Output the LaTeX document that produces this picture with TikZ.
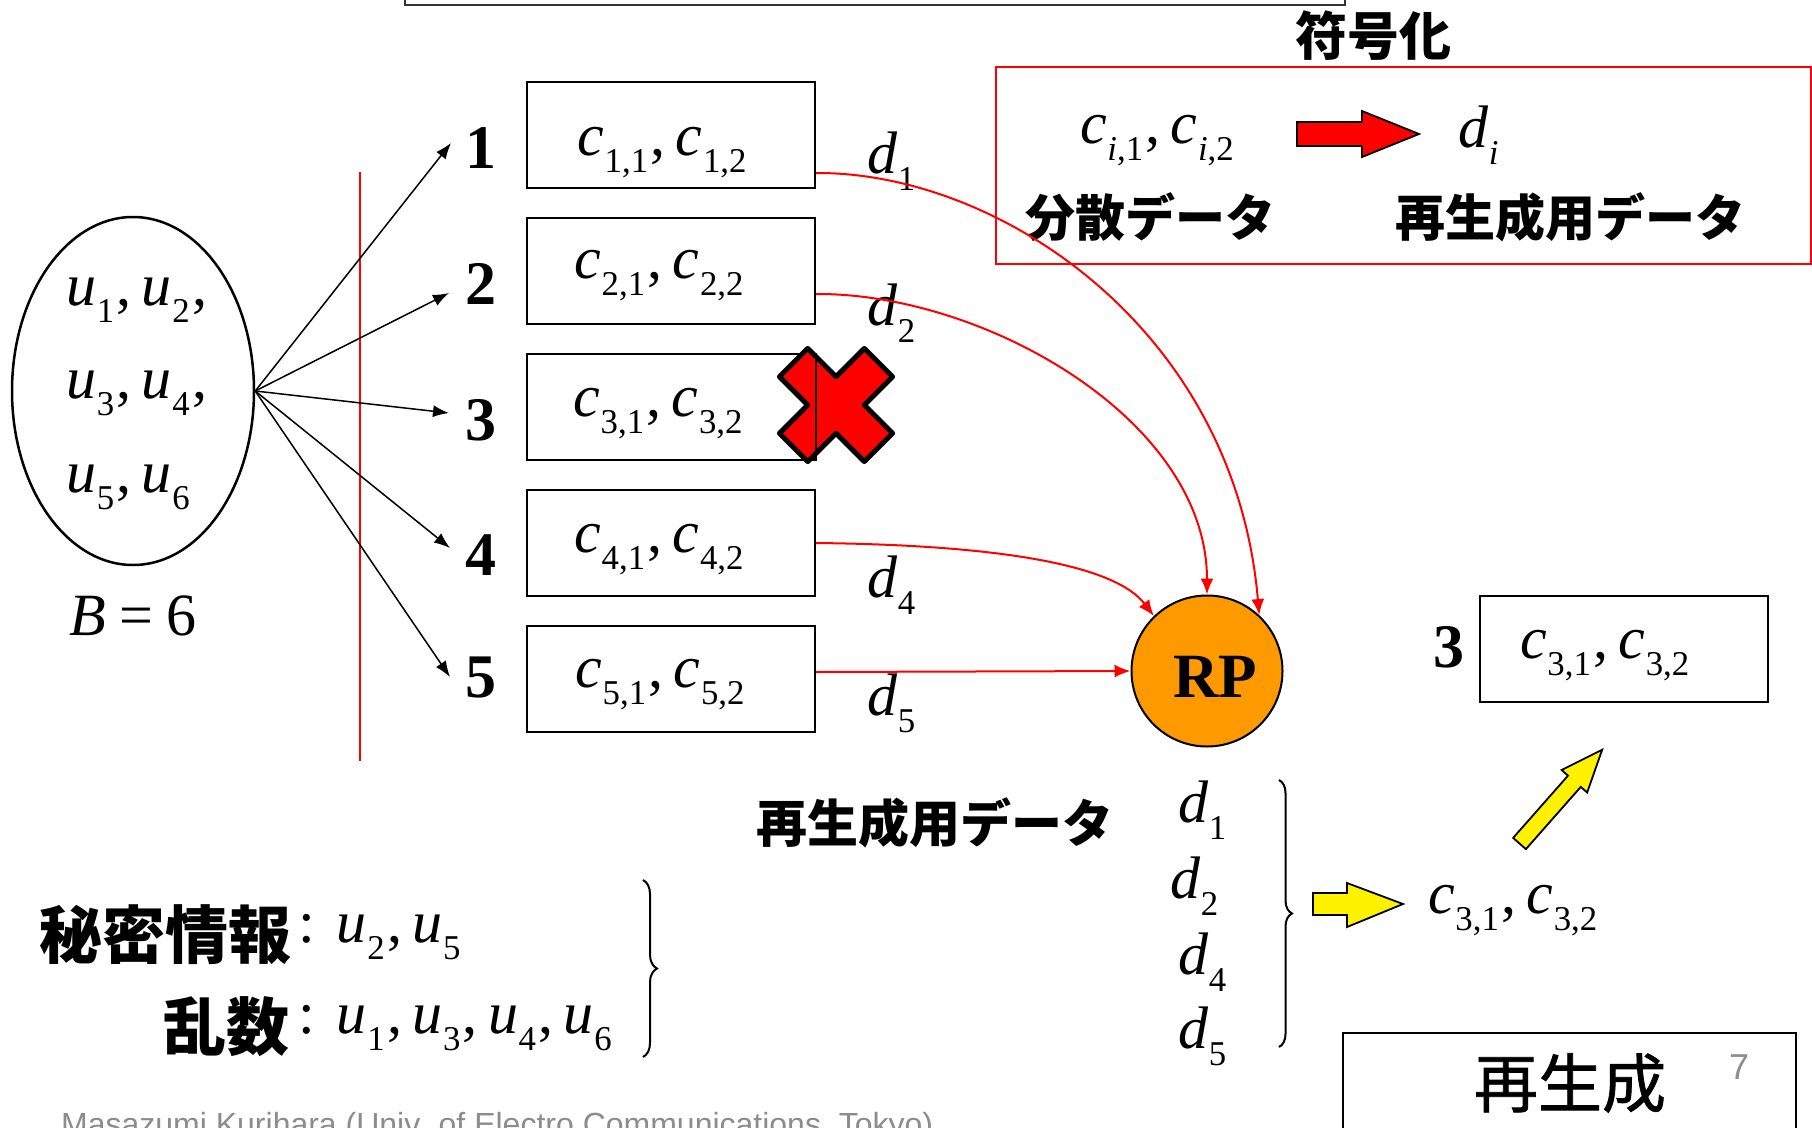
\documentclass[tikz,border=0pt]{standalone}
\usepackage{fontspec}
\usepackage{graphicx}
\setmainfont{Liberation Serif}
\newfontfamily\jp{Noto Sans CJK JP}
\newfontfamily\jpm{Noto Sans CJK JP}[FakeBold=1.2]
\newfontfamily\sansf{Liberation Sans}
\usetikzlibrary{shapes.geometric,arrows.meta,decorations.pathreplacing,calc}
\definecolor{rporange}{RGB}{255,153,0}
\definecolor{footgray}{RGB}{140,140,140}
\newcommand\sv[2]{\textit{#1}\kern0.01em\raisebox{-0.29em}{\scalebox{0.58}{#2}}}
\newcommand\cm{\kern0.04em,\hspace{0.17em}}
\newcommand\mfont{\fontsize{60}{66}\selectfont}
\tikzset{
  box/.style={draw, line width=2pt, minimum width=288pt, minimum height=106pt, anchor=north west, inner sep=0pt},
  mtxt/.style={font=\mfont, inner sep=0pt},
  num/.style={font=\fontsize{62}{70}\selectfont\bfseries, inner sep=0pt, anchor=base},
  jpb/.style={font={\jp\bfseries\fontsize{50}{56}\selectfont}, inner sep=0pt},
  blk/.style={-{Latex[length=16pt,width=12pt]}, line width=1.5pt},
  redc/.style={red, line width=2pt, -{Latex[length=16pt,width=13pt]}},
  blockarrow/.style={line width=1.8pt, draw=black, line join=miter}
}
\begin{document}
\begin{tikzpicture}[x=1pt,y=-1pt]
\useasboundingbox (0,0) rectangle (1812,1127);
% top box remnant
\draw[line width=2pt, black!80] (405,-10) -- (405,5) -- (1345,5) -- (1345,-10);
% encoding box
\node[jpb, font={\jp\bfseries\fontsize{52}{58}\selectfont}] (enctitle) at (1373,36) {符号化};
\node[draw=red, line width=1.5pt, minimum width=815pt, minimum height=197pt, anchor=north west, inner sep=0pt] (enc) at (995,66) {};
\node[mtxt, anchor=base west] (ci) at (1080,143) {\sv{c}{\textit{i},1}\cm\sv{c}{\textit{i},2}};
\draw[blockarrow, fill=red] (1297,122) -- (1362,122) -- (1362,111) -- (1419,134) -- (1362,157) -- (1362,146) -- (1297,146) -- cycle;
\node[mtxt, anchor=base west] (di) at (1458,147) {\sv{d}{\textit{i}}};
\node[jpb] (bunsan) at (1150,217) {分散データ};
\node[jpb] (saisei1) at (1570,217) {再生成用データ};
% ellipse of secrets
\node[draw, ellipse, line width=2.5pt, minimum width=242pt, minimum height=348pt, inner sep=0pt] (ell) at (133,391) {};
\node[mtxt, anchor=base west] (u12) at (66,305) {\sv{u}{1}\cm\sv{u}{2}\cm};
\node[mtxt, anchor=base west] (u34) at (66,398) {\sv{u}{3}\cm\sv{u}{4}\cm};
\node[mtxt, anchor=base west] (u56) at (66,492) {\sv{u}{5}\cm\sv{u}{6}};
\node[mtxt, anchor=base west] (bsix) at (69,635) {\textit{B}\hspace{0.22em}=\hspace{0.22em}6};
% separator
\draw[red, line width=2pt] (360,172) -- (360,761);
% boxes
\node[box] (b1) at (526,81) {};
\node[box] (b2) at (526,217) {};
\node[box] (b3) at (526,353) {};
\node[box] (b4) at (526,489) {};
\node[box] (b5) at (526,625) {};
\node[mtxt, anchor=base] (t1) at (662,155) {\sv{c}{1,1}\cm\sv{c}{1,2}};
\node[mtxt, anchor=base] (t2) at (659,278) {\sv{c}{2,1}\cm\sv{c}{2,2}};
\node[mtxt, anchor=base] (t3) at (658,416) {\sv{c}{3,1}\cm\sv{c}{3,2}};
\node[mtxt, anchor=base] (t4) at (659,552) {\sv{c}{4,1}\cm\sv{c}{4,2}};
\node[mtxt, anchor=base] (t5) at (660,687) {\sv{c}{5,1}\cm\sv{c}{5,2}};
% numbers
\node[num] (n1) at (481,168) {1};
\node[num] (n2) at (481,304) {2};
\node[num] (n3) at (481,440) {3};
\node[num] (n4) at (481,575) {4};
\node[num] (n5) at (481,697) {5};
% arrows from ellipse
\coordinate (a1) at (451,143);
\coordinate (a2) at (449,293);
\coordinate (a3) at (449,413);
\coordinate (a4) at (450,548);
\coordinate (a5) at (450,677);
\foreach \i in {1,...,5} \draw[blk] (ell.east) -- (a\i);
% cross
\begin{scope}[shift={(836,405)}, rotate=45]
\draw[fill=red, line width=5pt, line join=round] (60,-20) -- (60,20) -- (20,20) -- (20,60) -- (-20,60) -- (-20,20) -- (-60,20) -- (-60,-20) -- (-20,-20) -- (-20,-60) -- (20,-60) -- (20,-20) -- cycle;
\end{scope}
\draw[line width=1.5pt] (b3.north east) -- (b3.south east);
% d labels
\node[mtxt, anchor=base west] (d1) at (867,173) {\sv{d}{1}};
\node[mtxt, anchor=base west] (d2) at (867,325) {\sv{d}{2}};
\node[mtxt, anchor=base west] (d4) at (867,597) {\sv{d}{4}};
\node[mtxt, anchor=base west] (d5) at (867,715) {\sv{d}{5}};
% RP
\node[circle, draw, fill=rporange, line width=2pt, minimum size=151pt, inner sep=0pt, text height=52pt, text depth=0pt, font=\fontsize{63}{70}\selectfont\bfseries] (rp) at (1207,671) {\hspace*{16pt}RP};
% red connectors
\draw[redc] ([yshift=-38pt]b1.east) .. controls (1000,172) and (1235,330) .. (rp.47);
\draw[redc] ([yshift=-23pt]b2.east) .. controls (985,293) and (1207,420) .. (rp.north);
\draw[redc] (b4.east) .. controls (1000,545) and (1115,565) .. (rp.134);
\draw[redc] ([yshift=7pt]b5.east) -- (rp.west);
% recovered box
\node[num] (n3r) at (1449,667) {3};
\node[box, minimum width=288pt, minimum height=106pt] (b3r) at (1479,595) {};
\node[mtxt, anchor=base west] (t3r) at (1520,658) {\sv{c}{3,1}\cm\sv{c}{3,2}};
% lower section
\node[jpb, font={\jp\bfseries\fontsize{51}{56}\selectfont}] (saisei2) at (935,823) {再生成用データ};
\node[mtxt, anchor=base west] (e1) at (1178,822) {\sv{d}{1}};
\node[mtxt, anchor=base west] (e2) at (1170,898) {\sv{d}{2}};
\node[mtxt, anchor=base west] (e4) at (1178,974) {\sv{d}{4}};
\node[mtxt, anchor=base west] (e5) at (1178,1048) {\sv{d}{5}};
\draw[decorate, decoration={brace, amplitude=13pt}, line width=2pt] (1279,780) -- (1279,1047);
\draw[blockarrow, fill=yellow] (1313,893) -- (1347,893) -- (1347,883) -- (1403,904) -- (1347,927) -- (1347,915) -- (1313,915) -- cycle;
\node[mtxt, anchor=base west] (t3y) at (1428,913) {\sv{c}{3,1}\cm\sv{c}{3,2}};
\begin{scope}[shift={(1519.5,843.5)}, rotate=48.6]
\draw[blockarrow, fill=yellow] (0,-8.5) -- (83,-8.5) -- (83,-17) -- (125,0) -- (83,17) -- (83,8.5) -- (0,8.5) -- cycle;
\end{scope}
% secret / random
\node[jpb, font={\jp\bfseries\fontsize{63}{70}\selectfont}, anchor=east] (himitsu) at (292,935) {秘密情報};
\node[mtxt, anchor=base west] (sec) at (298,942) {:\hspace{22pt}\sv{u}{2}\cm\sv{u}{5}};
\node[jpb, font={\jp\bfseries\fontsize{63}{70}\selectfont}, anchor=east] (ransu) at (290,1027) {乱数};
\node[mtxt, anchor=base west] (rnd) at (298,1033) {:\hspace{22pt}\sv{u}{1}\cm\sv{u}{3}\cm\sv{u}{4}\cm\sv{u}{6}};
\draw[decorate, decoration={brace, amplitude=14pt}, line width=2pt] (643,880) -- (643,1057);
% footer
\node[font={\sansf\fontsize{32}{36}\selectfont}, text=footgray, anchor=base west, inner sep=0pt] (foot) at (61,1135) {Masazumi Kurihara (Univ. of Electro Communications, Tokyo)};
\draw[line width=1.5pt] (1343,1140) -- (1343,1033) -- (1796,1033) -- (1796,1140);
\node[font={\jpm\fontsize{64}{72}\selectfont}, inner sep=0pt] (title) at (1570,1083) {再生成};
\node[font={\sansf\fontsize{36}{40}\selectfont}, text=footgray, anchor=base, inner sep=0pt] (pnum) at (1739,1079) {7};
\end{tikzpicture}
\end{document}
